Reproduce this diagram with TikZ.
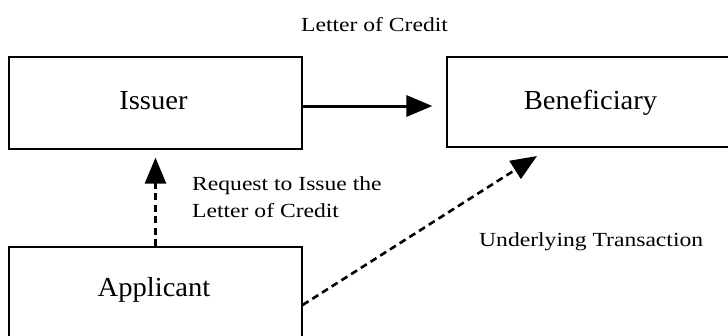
\documentclass[tikz,border=0pt]{standalone}
\usepackage{fontspec}
\setmainfont{Liberation Serif}
\newfontfamily\boxfont[FakeStretch=1.04]{Liberation Serif}
\newfontfamily\notefont[FakeStretch=1.18]{Liberation Serif}
\usetikzlibrary{arrows.meta}

\tikzset{
  party/.style={draw=black, line width=1.2pt, inner sep=0pt, minimum width=293pt},
  partytext/.style={inner sep=0pt, anchor=base, font=\boxfont\fontsize{27.5}{33}\selectfont},
  note/.style={inner sep=0pt, font=\notefont\fontsize{20}{27}\selectfont},
  solidarrow/.style={line width=3pt, -{Triangle[length=26pt,width=21pt]}},
  dasharrow/.style={line width=2.6pt, dash pattern=on 7pt off 4.5pt,
    -{Triangle[length=26pt,width=21pt]}},
}

\begin{document}
\begin{tikzpicture}[x=1pt, y=-1pt]
  \useasboundingbox (0,0) rectangle (728,335);
  \clip (0,0) rectangle (728,335);

  % the three parties
  \node[party, minimum height=92pt]  (issuer)      at (155.5,103) {};
  \node[party, minimum height=90pt]  (beneficiary) at (593.5,102) {};
  \node[party, minimum height=116pt] (applicant)   at (155.5,305) {};

  \node[partytext] (issuertext)      at (153.5,109) {Issuer};
  \node[partytext] (beneficiarytext) at (590.5,109) {Beneficiary};
  \node[partytext] (applicanttext)   at (154,296)   {Applicant};

  % captions (the base of a two-line note is its last line)
  \node[note, anchor=base] (title) at (374.5,31) {Letter of Credit};
  \node[note, anchor=base west, align=left] (request) at (192,217)
    {Request to Issue the\\Letter of Credit};
  \node[note, anchor=base west] (underlying) at (479,246) {Underlying Transaction};

  % connectors
  \coordinate (utend) at (537,156);
  \draw[solidarrow, shorten >=14pt] ([yshift=-3pt]issuer.east) -- ([yshift=-4pt]beneficiary.west);
  \draw[dasharrow, shorten >=8pt] (applicant.north) -- (issuer.south);
  \draw[dasharrow] (applicant.east) -- (utend);
\end{tikzpicture}
\end{document}
